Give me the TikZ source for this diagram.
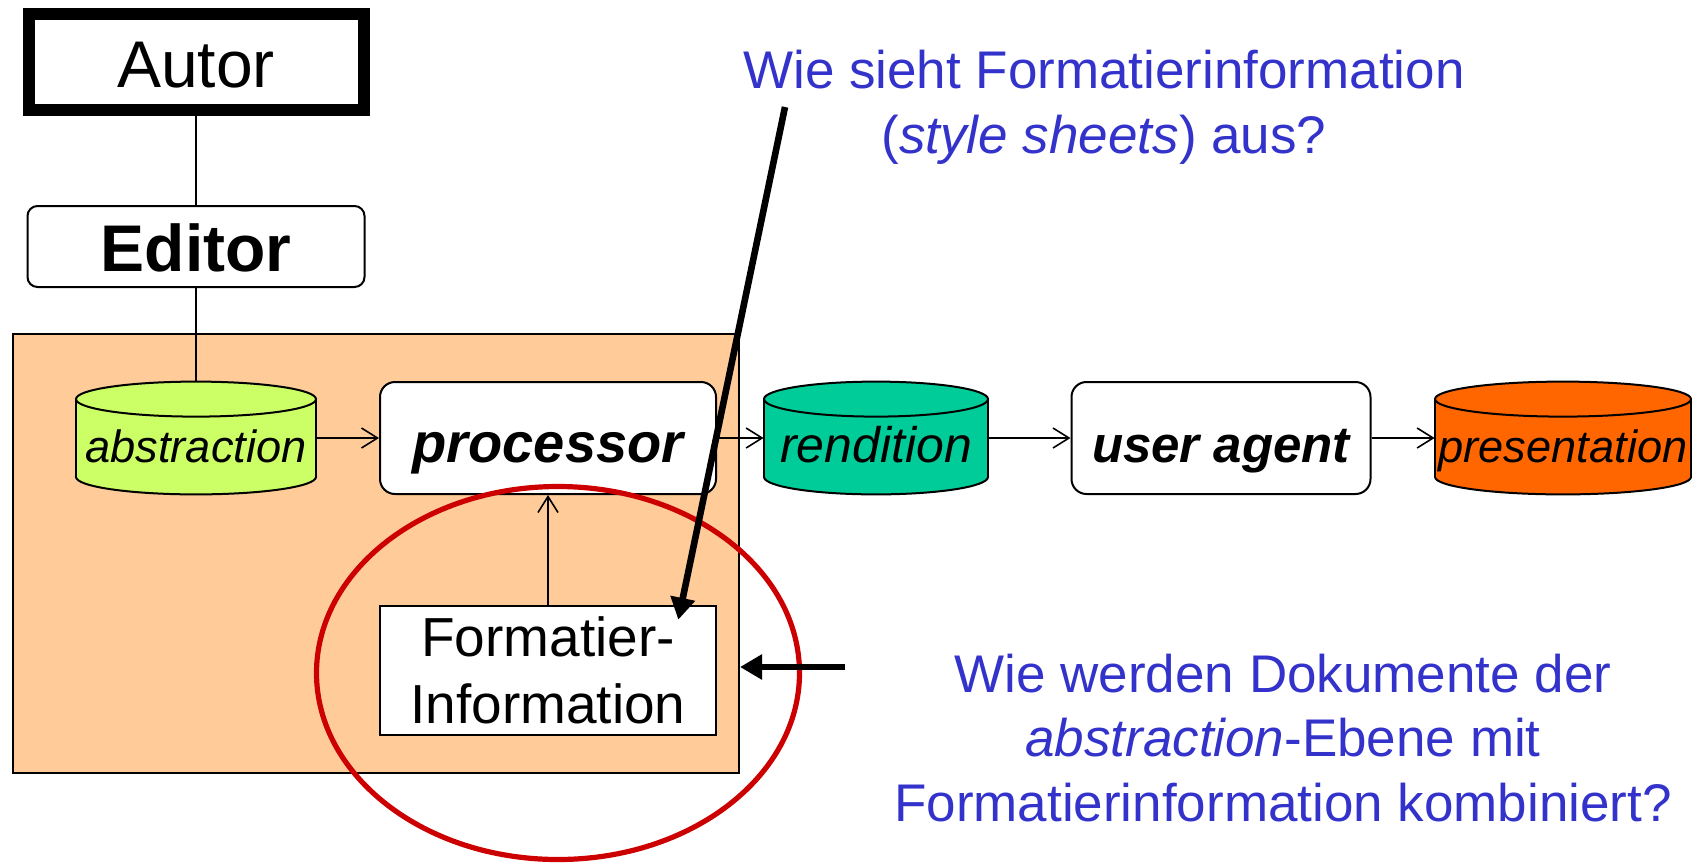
\documentclass[tikz,border=0pt]{standalone}
\usepackage{fontspec}
\setmainfont{Liberation Sans}
\usetikzlibrary{arrows.meta,calc,backgrounds}

\definecolor{peach}{HTML}{FFCC99}
\definecolor{absgreen}{HTML}{CCFF66}
\definecolor{rengreen}{HTML}{00CC99}
\definecolor{presorange}{HTML}{FF6600}
\definecolor{ringred}{HTML}{CC0000}
\definecolor{askblue}{HTML}{3333CC}

\newcommand{\fs}[2]{\fontsize{#1}{#2}\selectfont}

\begin{document}
\begin{tikzpicture}[x=0.5pt,y=-0.5pt,>={Straight Barb[length=8pt,width=10pt]},
  every node/.style={inner sep=0pt},
  roundbox/.style={draw,line width=1pt,fill=white,rounded corners=7.5pt,minimum height=56pt,text height=24pt,text depth=0pt},
  store/.style={minimum height=56pt,text height=24pt,text depth=0pt},
  conn/.style={line width=0.8pt},
  pointer/.style={line width=3.3pt,-{Triangle[length=11pt,width=12pt]}},
  question/.style={text=askblue,align=center}]
  \useasboundingbox (0,0) rectangle (1697,863);

  % Autor and Editor
  \node[draw,line width=6pt,minimum width=167.5pt,minimum height=48pt,text height=25pt,text depth=0pt,font=\fs{33pt}{40pt}] (autor) at (196,62) {Autor};
  \node[roundbox,rounded corners=5pt,minimum width=168.5pt,minimum height=40.5pt,text height=25pt,font=\fs{33pt}{40pt}\bfseries] (editor) at (196,246.5) {Editor};

  % processing chain
  \node[store,minimum width=120pt,font=\fs{22.6pt}{27pt}\itshape] (abs) at (196,438) {abstraction};
  \node[roundbox,minimum width=168pt,font=\fs{28pt}{34pt}\bfseries\itshape] (proc) at (548,438) {processor};
  \node[store,minimum width=112pt,font=\fs{25pt}{30pt}\itshape] (ren) at (876,438) {rendition};
  \node[roundbox,minimum width=149.5pt,font=\fs{25.5pt}{31pt}\bfseries\itshape] (agent) at (1221,438) {user agent};
  \node[store,minimum width=128pt,font=\fs{22.6pt}{27pt}\itshape] (pres) at (1563,438) {presentation};
  \node[draw,line width=1.3pt,fill=white,minimum width=168pt,minimum height=64.5pt,align=center,font=\fs{27.5pt}{33.5pt}] (fmt) at (548,670.5) {Formatier-\\Information};

  % frame and drums go behind
  \begin{scope}[on background layer]
    \node[draw,line width=1pt,fill=peach,minimum width=363pt,minimum height=219.5pt] (frame) at (376,553.5) {};
    \foreach \n/\c/\r in {abs/absgreen/120,ren/rengreen/112,pres/presorange/128} {
      \filldraw[fill=\c,line width=1pt] ($(\n.south)+(0,-17.5)$) ellipse[x radius=\r,y radius=17.5];
      \fill[\c] ($(\n.north west)+(0,17.5)$) rectangle ($(\n.south east)+(0,-17.5)$);
      \draw[line width=1pt] ($(\n.north west)+(0,17.5)$) -- ($(\n.south west)+(0,-17.5)$)
                            ($(\n.north east)+(0,17.5)$) -- ($(\n.south east)+(0,-17.5)$);
      \filldraw[fill=\c,line width=1pt] ($(\n.north)+(0,17.5)$) ellipse[x radius=\r,y radius=17.5];
    }
  \end{scope}

  % connectors
  \draw[conn] (autor) -- (editor);
  \draw[conn] (editor) -- (abs);
  \draw[conn,->] (abs) -- (proc);
  \draw[conn,->] (proc) -- (ren);
  \draw[conn,->] (ren) -- (agent);
  \draw[conn,->] (agent) -- (pres);
  \draw[conn,->] (fmt) -- (proc);

  % red ring
  \draw[ringred,line width=2.6pt] (558,673) ellipse[x radius=241.5,y radius=186.5];

  % questions
  \node[question,font=\fs{26.5pt}{32.5pt}] (q1) at (1104,107) {Wie sieht Formatierinformation\\(\textit{style sheets}) aus?};
  \node[question,font=\fs{26.5pt}{32.25pt}] (q2) at (1283,738) {Wie werden Dokumente der\\\textit{abstraction}-Ebene mit\\Formatierinformation kombiniert?};

  \coordinate (q1tail) at (785,107);
  \coordinate (q2tail) at (845,667);
  \draw[pointer] (q1tail) -- ($(fmt.north east)+(-39,15)$);
  \draw[pointer] (q2tail) -- (q2tail -| frame.east);
\end{tikzpicture}
\end{document}
